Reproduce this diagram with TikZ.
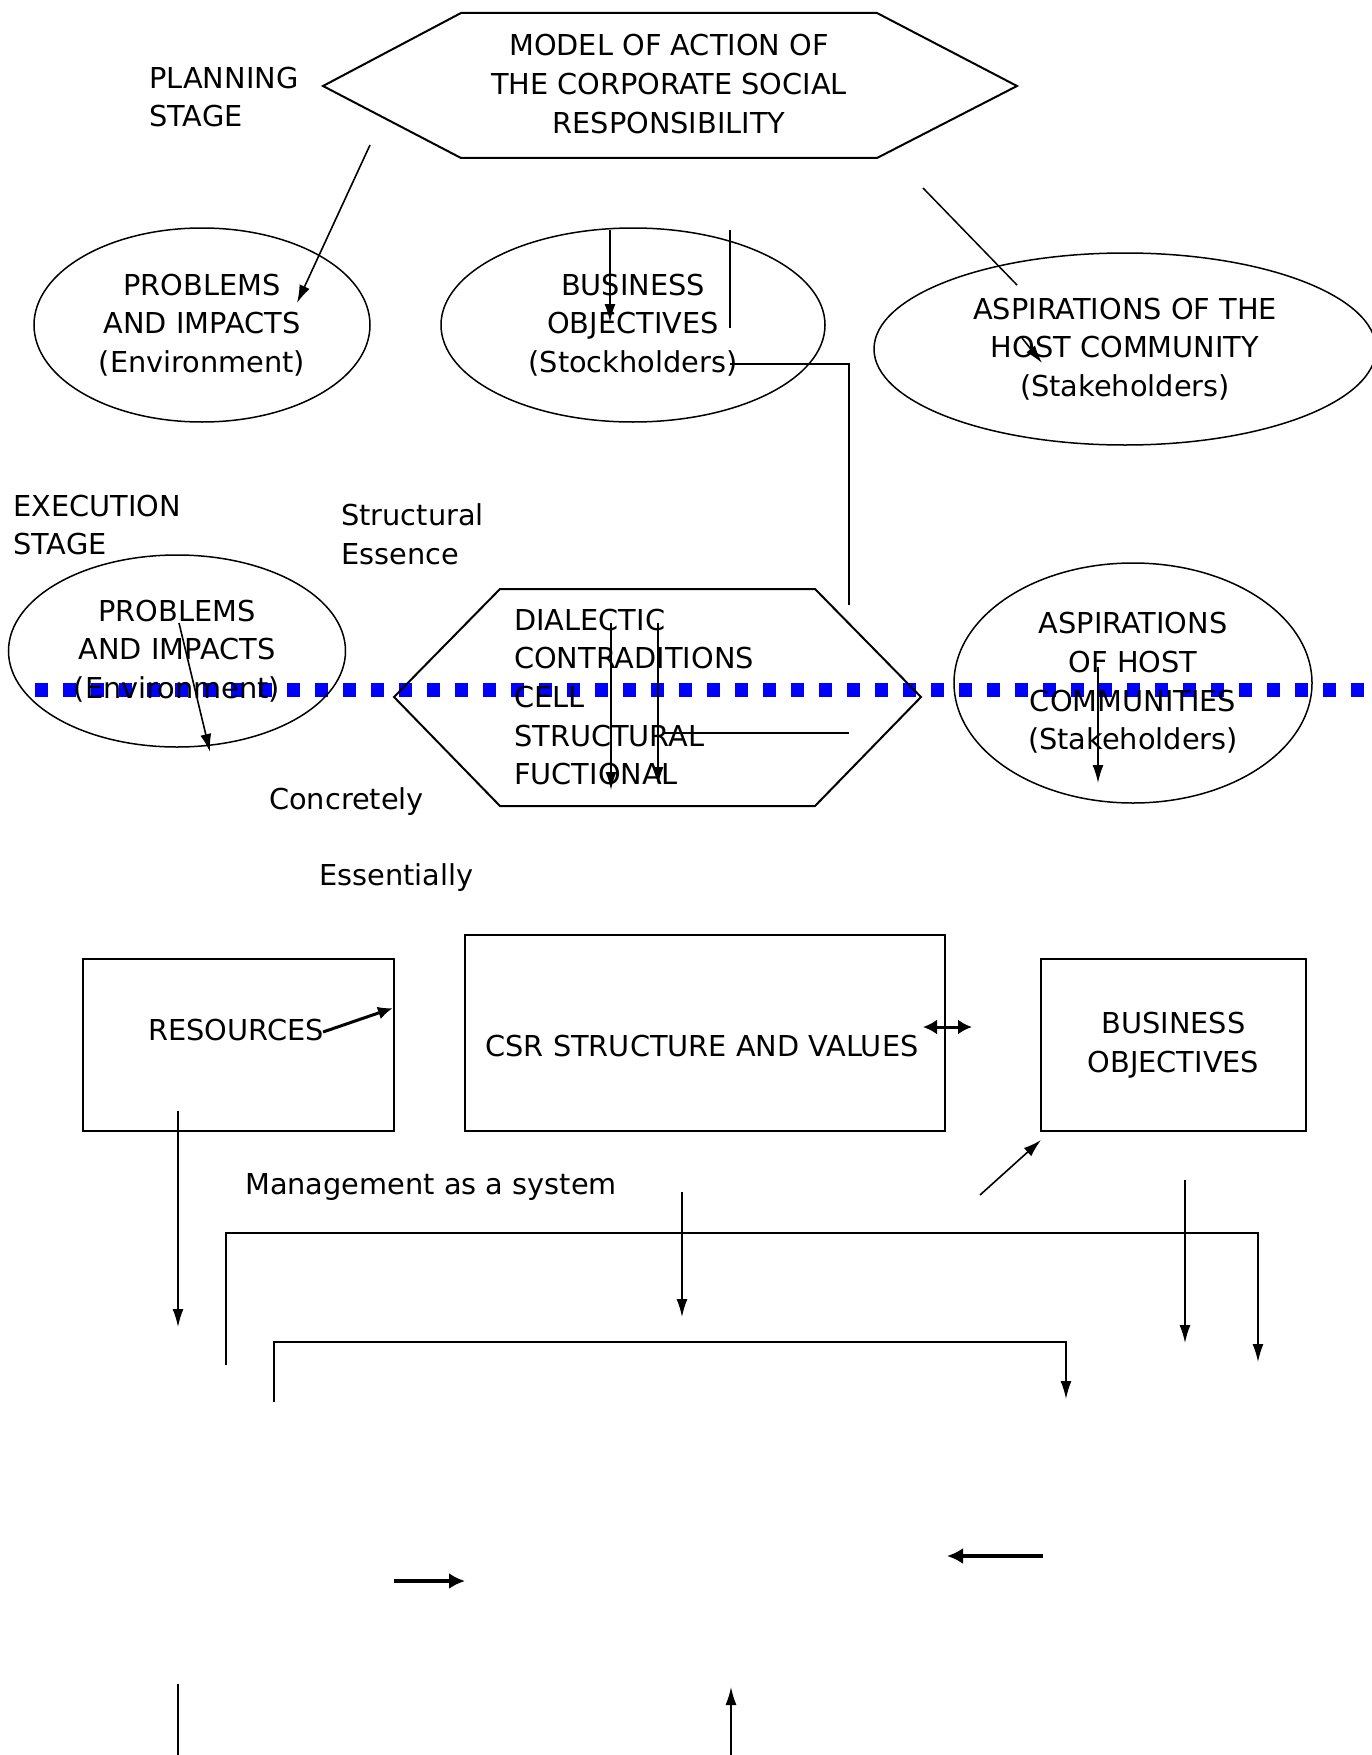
\documentclass[tikz,border=0pt]{standalone}
\usepackage{fontspec}
\setmainfont{DejaVu Sans}
\usetikzlibrary{shapes.geometric,arrows.meta}
\begin{document}
\begin{tikzpicture}[x=1pt,y=-1pt,font=\fontsize{28.8}{38.6}\selectfont]
		\tikzstyle{invisible} = [outer sep=0,inner sep=0,minimum size=0]
		\tikzstyle{txt} = [inner sep=0, align=center]
		\tikzstyle{lefttxt} = [inner sep=0, align=left, anchor=west]
		\tikzstyle{oval} = [shape=ellipse, draw, line width=1.5pt, inner sep=0, align=center]
		\tikzstyle{box} = [draw, line width=2pt, inner sep=0, align=center]
		\tikzstyle{arrow} = [-{Latex[length=18pt,width=11pt]}, line width=1.6pt]
		\tikzstyle{boldarrow} = [-{Latex[length=16pt,width=16pt]}, line width=3.5pt]
		\tikzstyle{link} = [draw, line width=1.5pt]
		\useasboundingbox (0,0) rectangle (1372,1755);
		
		\coordinate (v1) at (35,690);
		\coordinate (v2) at (1385,690);
		\draw [blue, line width=14pt, dash pattern=on 13pt off 15pt] (v1) -- (v2);
		
		\node [txt] (v3) at (669,84) {MODEL OF ACTION OF\\THE CORPORATE SOCIAL\\RESPONSIBILITY};
		\draw [line width=2pt] (461,13) -- (877,13) -- (1017,86) -- (877,158) -- (461,158) -- (323,86) -- cycle;
		\node [lefttxt] (v4) at (149,97) {PLANNING\\STAGE};
		\node [oval, minimum width=336, minimum height=194] (v5) at (202,325) {PROBLEMS\\AND IMPACTS\\(Environment)};
		\node [oval, minimum width=384, minimum height=194] (v6) at (633,325) {BUSINESS\\OBJECTIVES\\(Stockholders)};
		\node [oval, minimum width=502, minimum height=192] (v7) at (1125,349) {ASPIRATIONS OF THE\\HOST COMMUNITY\\(Stakeholders)};
		\coordinate (v8) at (370,145);
		\coordinate (v9) at (297,303);
		\draw [arrow] (v8) -- (v9);
		\coordinate (v10) at (610,230);
		\coordinate (v11) at (610,322);
		\draw [arrow] (v10) -- (v11);
		\coordinate (v12) at (730,230);
		\coordinate (v13) at (730,328);
		\draw [link] (v12) -- (v13);
		\coordinate (v14) at (730,364);
		\coordinate (v15) at (849,605);
		\draw [link] (v14) -| (v15);
		\coordinate (v16) at (923,188);
		\coordinate (v17) at (1017,285);
		\draw [link] (v16) -- (v17);
		\coordinate (v18) at (1022,338);
		\coordinate (v19) at (1042,363);
		\draw [arrow] (v18) -- (v19);
		
		\node [lefttxt] (v20) at (13,525) {EXECUTION\\STAGE};
		\node [lefttxt] (v21) at (341,534) {Structural\\Essence};
		\node [oval, minimum width=337, minimum height=192] (v22) at (177,651) {PROBLEMS\\AND IMPACTS\\(Environment)};
		\coordinate (v23) at (179,623);
		\coordinate (v24) at (210,752);
		\draw [arrow] (v23) -- (v24);
		\node [lefttxt] (v25) at (514,697) {DIALECTIC\\CONTRADITIONS\\CELL\\STRUCTURAL\\FUCTIONAL};
		\draw [line width=2pt] (500,589) -- (815,589) -- (921,697) -- (815,806) -- (500,806) -- (394,697) -- cycle;
		\coordinate (v26) at (611,623);
		\coordinate (v27) at (611,790);
		\draw [arrow] (v26) -- (v27);
		\coordinate (v28) at (658,623);
		\coordinate (v29) at (658,785);
		\draw [arrow] (v28) -- (v29);
		\coordinate (v30) at (663,733);
		\coordinate (v31) at (849,733);
		\draw [link] (v30) -- (v31);
		\node [oval, minimum width=358, minimum height=240] (v32) at (1133,683) {ASPIRATIONS\\OF HOST\\COMMUNITIES\\(Stakeholders)};
		\coordinate (v33) at (1098,667);
		\coordinate (v34) at (1098,783);
		\draw [arrow] (v33) -- (v34);
		\node [lefttxt] (v35) at (269,802) {Concretely};
		\node [lefttxt] (v36) at (319,878) {Essentially};
		
		\node [box, minimum width=311, minimum height=172] (v37) at (238.5,1045) {};
		\node [txt] (v38) at (236,1030) {RESOURCES};
		\node [box, minimum width=480, minimum height=196] (v39) at (705,1033) {};
		\node [txt] (v40) at (702,1046) {CSR STRUCTURE AND VALUES};
		\node [box, minimum width=265, minimum height=172] (v41) at (1173.5,1045) {BUSINESS\\OBJECTIVES};
		\coordinate (v42) at (323,1032);
		\coordinate (v43) at (393,1008);
		\draw [-{Latex[length=15pt,width=13pt]}, line width=3pt] (v42) -- (v43);
		\coordinate (v44) at (923,1027);
		\coordinate (v45) at (972,1027);
		\draw [{Latex[length=14pt,width=15pt]}-{Latex[length=14pt,width=15pt]}, line width=3pt] (v44) -- (v45);
		\coordinate (v46) at (178,1111);
		\coordinate (v47) at (178,1327);
		\draw [arrow] (v46) -- (v47);
		\coordinate (v48) at (980,1195);
		\coordinate (v49) at (1041,1140);
		\draw [arrow] (v48) -- (v49);
		\coordinate (v50) at (1185,1180);
		\coordinate (v51) at (1185,1343);
		\draw [arrow] (v50) -- (v51);
		\node [lefttxt] (v52) at (245,1187) {Management as a system};
		\coordinate (v53) at (682,1192);
		\coordinate (v54) at (682,1317);
		\draw [arrow] (v53) -- (v54);
		
		\coordinate (v55) at (226,1365);
		\coordinate (v56) at (1258,1362);
		\draw [arrow] (v55) |- (1258,1233) -- (v56);
		\coordinate (v57) at (801,1233);
		\coordinate (v58) at (969,1233);
		\draw [line width=2.5pt] (v57) -- (v58);
		\coordinate (v59) at (274,1402);
		\coordinate (v60) at (1066,1399);
		\draw [arrow] (v59) |- (1066,1342) -- (v60);
		\coordinate (v61) at (394,1581);
		\coordinate (v62) at (465,1581);
		\draw [boldarrow] (v61) -- (v62);
		\coordinate (v63) at (1043,1556);
		\coordinate (v64) at (947,1556);
		\draw [boldarrow] (v63) -- (v64);
		\coordinate (v65) at (178,1684);
		\coordinate (v66) at (178,1760);
		\draw [link] (v65) -- (v66);
		\coordinate (v67) at (731,1760);
		\coordinate (v68) at (731,1687);
		\draw [arrow] (v67) -- (v68);
\end{tikzpicture}
\end{document}
